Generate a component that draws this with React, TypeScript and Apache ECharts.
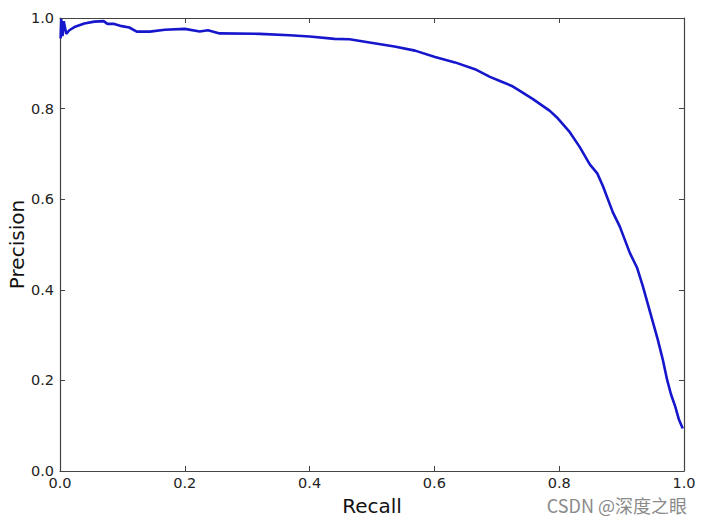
import React, { useEffect, useRef } from "react";
import * as echarts from "echarts";

const recall: number[] = [
  0.001, 0.002, 0.004, 0.006, 0.010, 0.015, 0.023, 0.039, 0.055, 0.070, 0.076, 0.087, 0.099,
  0.111, 0.123, 0.144, 0.168, 0.200, 0.224, 0.237, 0.256, 0.320, 0.368, 0.400, 0.440, 0.464,
  0.496, 0.536, 0.569, 0.601, 0.633, 0.665, 0.689, 0.705, 0.724, 0.737, 0.758, 0.785, 0.796,
  0.817, 0.833, 0.849, 0.861, 0.870, 0.886, 0.897, 0.913, 0.925, 0.934, 0.946, 0.958, 0.966,
  0.973, 0.979, 0.986, 0.992, 0.998,
];
const precision: number[] = [
  0.955, 0.998, 0.960, 0.993, 0.965, 0.973, 0.980, 0.988, 0.992, 0.993, 0.987, 0.987, 0.982,
  0.979, 0.970, 0.970, 0.974, 0.976, 0.970, 0.973, 0.966, 0.965, 0.962, 0.959, 0.954, 0.953,
  0.946, 0.937, 0.928, 0.914, 0.902, 0.887, 0.870, 0.861, 0.850, 0.839, 0.821, 0.795, 0.781,
  0.748, 0.715, 0.677, 0.657, 0.629, 0.571, 0.540, 0.482, 0.448, 0.408, 0.349, 0.290, 0.246,
  0.201, 0.170, 0.142, 0.113, 0.094,
];
const xName = "Recall";
const yName = "Precision";
const watermark = "CSDN @深度之眼";

export default function App() {
  const ref = useRef<HTMLDivElement>(null);
  useEffect(() => {
    if (!ref.current) return;
    const chart = echarts.init(ref.current, undefined, { renderer: "svg" });
    const font = "DejaVu Sans";
    const axisLine = { show: true, onZero: false, lineStyle: { color: "#444", width: 1.2 } };
    const ticksIn = { show: true, inside: true, length: 5, lineStyle: { color: "#444", width: 1 } };
    const fmt = (v: number) => v.toFixed(1);
    chart.setOption({
      animation: false,
      backgroundColor: "#ffffff",
      grid: { left: 60, right: 17, top: 18, bottom: 52, containLabel: false, outerBoundsMode: "none" },
      xAxis: [
        {
          type: "value", min: 0, max: 1, interval: 0.2, position: "bottom",
          name: xName, nameLocation: "middle", nameGap: 25, nameMoveOverlap: false,
          nameTextStyle: { fontFamily: font, fontSize: 20, color: "#111" },
          axisLine, axisTick: ticksIn,
          axisLabel: { formatter: fmt, fontFamily: font, fontSize: 14.5, color: "#222", margin: 4 },
          splitLine: { show: false },
        },
        {
          type: "value", min: 0, max: 1, interval: 0.2, position: "top",
          axisLine, axisTick: ticksIn, axisLabel: { show: false }, splitLine: { show: false },
        },
      ],
      yAxis: [
        {
          type: "value", min: 0, max: 1, interval: 0.2, position: "left",
          name: yName, nameLocation: "middle", nameGap: 33, nameMoveOverlap: false,
          nameTextStyle: { fontFamily: font, fontSize: 20, color: "#111" },
          axisLine, axisTick: ticksIn,
          axisLabel: { formatter: fmt, fontFamily: font, fontSize: 14.5, color: "#222", margin: 6 },
          splitLine: { show: false },
        },
        {
          type: "value", min: 0, max: 1, interval: 0.2, position: "right",
          axisLine, axisTick: ticksIn, axisLabel: { show: false }, splitLine: { show: false },
        },
      ],
      series: [
        {
          type: "line",
          data: recall.map((r, i) => [r, precision[i]]),
          showSymbol: false,
          lineStyle: { color: "#1616cc", width: 2.6 },
          itemStyle: { color: "#1616cc" },
        },
      ],
      graphic: [
        {
          type: "text", right: 14, bottom: 9,
          style: { text: watermark, fontFamily: "Noto Sans CJK SC", fontSize: 18, fill: "#8a8a8a" },
        },
      ],
    });
    return () => chart.dispose();
  }, []);
  return <div ref={ref} style={{ width: 701, height: 523, position: "absolute", left: 0, top: 0 }} />;
}
